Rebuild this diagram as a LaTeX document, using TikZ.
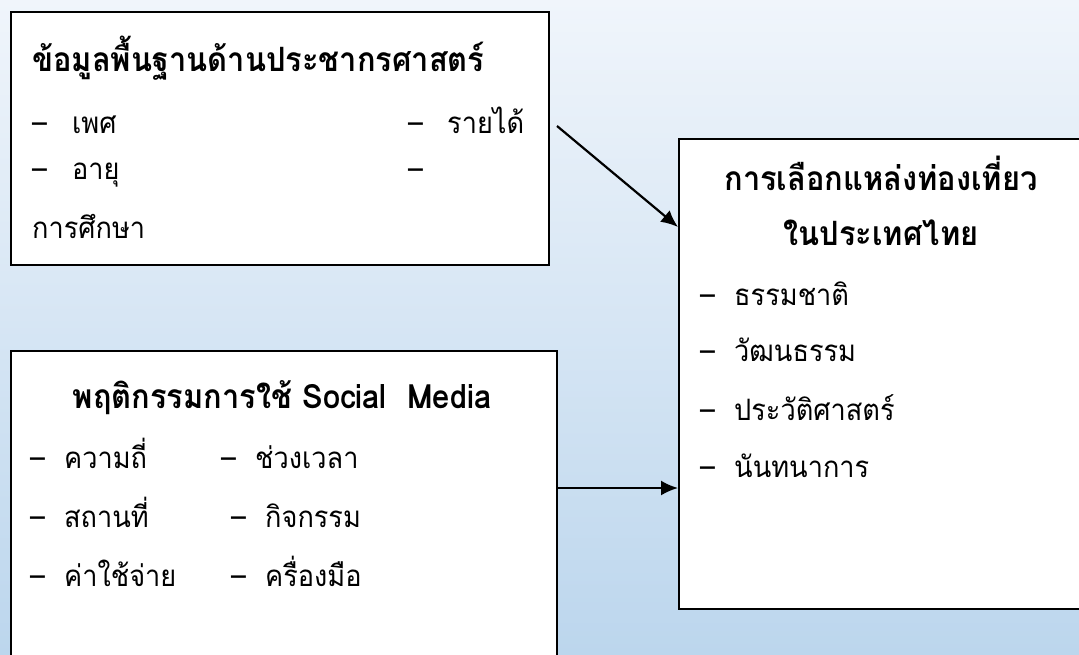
\documentclass[tikz,border=0pt]{standalone}
\usepackage{fontspec}
\newfontfamily\thaifont[Script=Thai, FakeStretch=0.92]{Loma}
\usetikzlibrary{arrows.meta}
\definecolor{bgtop}{RGB}{240,245,251}
\definecolor{bgbot}{RGB}{188,214,237}

\begin{document}
\begin{tikzpicture}[x=1pt,y=1pt,yscale=-1,xscale=1,
  panel/.style={draw=black, line width=2.2pt, fill=white, anchor=north west, inner sep=0pt},
  head/.style={font=\thaifont\bfseries\fontsize{33.5}{38}\selectfont, inner sep=0pt, anchor=base},
  item/.style={font=\thaifont\fontsize{29.5}{34}\selectfont, inner sep=0pt, anchor=base west},
  link/.style={line width=2.2pt, -{Latex[length=17pt,width=15pt]}}]
\useasboundingbox (0,0) rectangle (1079,654);
\clip (0,0) rectangle (1079,654);

%background
\shade [top color=bgtop, bottom color=bgbot] (0,0) rectangle (1079,654);

%boxes
\node [panel, minimum width=538, minimum height=253] (demo) at (10,11) {};
\node [panel, minimum width=546, minimum height=340] (behav) at (10,350) {};
\node [panel, minimum width=410, minimum height=470] (trip) at (678,138) {};

% demographic box
\node [head, anchor=base west] (demoT) at (32,71) {ข้อมูลพื้นฐานด้านประชากรศาสตร์};
\node [item] (sex) at (32,133) {\makebox[40pt][l]{–}เพศ};
\node [item] (income) at (408,133) {\makebox[39pt][l]{–}รายได้};
\node [item] (age) at (32,179) {\makebox[40pt][l]{–}อายุ};
\node [item] (edu1) at (408,179) {–};
\node [item] (edu2) at (32,238) {การศึกษา};

% social media box
\node [head] (behavT) at (282,408) {พฤติกรรมการใช้ Social\ \ Media};
\node [item] (freq) at (30,468) {\makebox[34pt][l]{–}ความถี่};
\node [item] (period) at (221,468) {\makebox[34pt][l]{–}ช่วงเวลา};
\node [item] (place) at (30,527) {\makebox[34pt][l]{–}สถานที่};
\node [item] (activity) at (231,527) {\makebox[34pt][l]{–}กิจกรรม};
\node [item] (cost) at (30,586) {\makebox[34pt][l]{–}ค่าใช้จ่าย};
\node [item] (tool) at (231,586) {\makebox[34pt][l]{–}ครื่องมือ};

% destination box
\node [head] (tripT1) at (881,190) {การเลือกแหล่งท่องเที่ยว};
\node [head] (tripT2) at (881,245) {ในประเทศไทย};
\node [item] (nature) at (700,305) {\makebox[34pt][l]{–}ธรรมชาติ};
\node [item] (culture) at (700,361) {\makebox[34pt][l]{–}วัฒนธรรม};
\node [item] (history) at (700,420) {\makebox[34pt][l]{–}ประวัติศาสตร์};
\node [item] (leisure) at (700,477) {\makebox[34pt][l]{–}นันทนาการ};

%arrows
\coordinate (a1) at (557,126);
\coordinate (a1end) at (678,227);
\coordinate (a2) at (0,488);
\draw [link] (a1) -- (a1end);
\draw [link] (behav.east |- a2) -- (trip.west |- a2);

\end{tikzpicture}
\end{document}
